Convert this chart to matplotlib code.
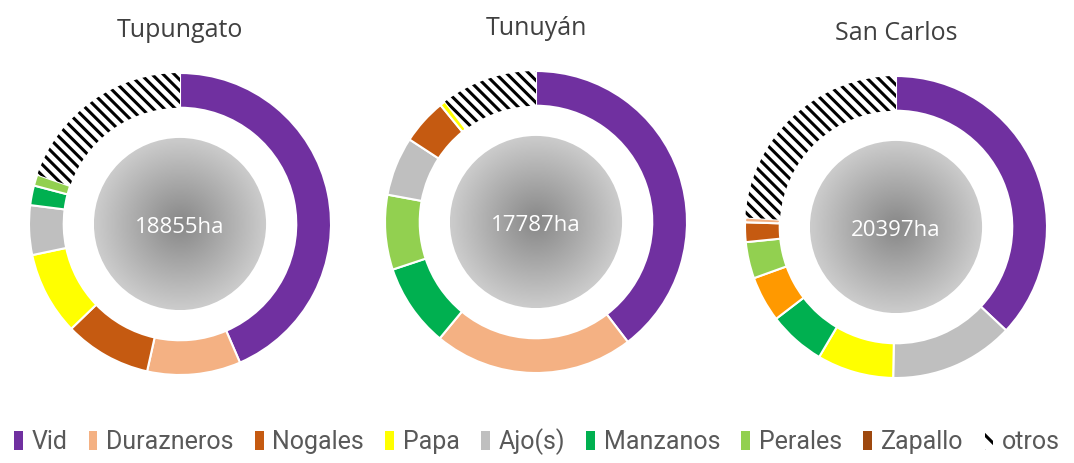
import numpy as np
import matplotlib
matplotlib.use('Agg')
import matplotlib.pyplot as plt
from matplotlib.patches import Patch, Circle

# colours per crop
colores = {
    'Vid': '#7030A0',
    'Durazneros': '#F4B183',
    'Nogales': '#C55A11',
    'Papa': '#FFFF00',
    'Ajo(s)': '#BFBFBF',
    'Manzanos': '#00B050',
    'Perales': '#92D050',
    'Zapallo': '#9E480E',
    'naranja': '#FF9900',   # slice without legend entry (San Carlos)
    'otros': '#FFFFFF',
}
legend_labels = ['Vid', 'Durazneros', 'Nogales', 'Papa', 'Ajo(s)', 'Manzanos',
                 'Perales', 'Zapallo', 'otros']

# % of cultivated area, read from the rings
tupungato_labels = ['Vid', 'Durazneros', 'Nogales', 'Papa', 'Ajo(s)', 'Manzanos', 'Perales', 'otros']
tupungato_vals = [43.5, 10.0, 9.3, 8.9, 5.3, 2.1, 1.2, 19.7]

tunuyan_labels = ['Vid', 'Durazneros', 'Manzanos', 'Perales', 'Ajo(s)', 'Nogales', 'Papa', 'otros']
tunuyan_vals = [39.6, 21.4, 8.9, 8.0, 6.3, 4.9, 0.6, 10.3]

sancarlos_labels = ['Vid', 'Ajo(s)', 'Papa', 'Manzanos', 'naranja', 'Perales', 'Nogales', 'Durazneros', 'otros']
sancarlos_vals = [37.0, 13.3, 8.2, 6.1, 4.9, 3.9, 2.1, 0.5, 24.0]

titulos = ['Tupungato', 'Tunuyán', 'San Carlos']
totales = ['18855ha', '17787ha', '20397ha']

plt.rcParams['hatch.linewidth'] = 2.2
W, H = 1074, 463
fig = plt.figure(figsize=(W / 100, H / 100), dpi=100)

centros = [(180, 224), (536, 222), (896, 227)]
R = 151
half = 160

# radial gradient for the centre disc
g = np.linspace(-1, 1, 300)
xx, yy = np.meshgrid(g, g)
rr = np.clip(np.sqrt(xx ** 2 + yy ** 2), 0, 1)
grad = 0.53 + 0.27 * rr

datos = [(tupungato_labels, tupungato_vals), (tunuyan_labels, tunuyan_vals),
         (sancarlos_labels, sancarlos_vals)]

for (cx, cy), (labs, vals), titulo, total in zip(centros, datos, titulos, totales):
    ax = fig.add_axes([(cx - half) / W, (H - cy - half) / H, 2 * half / W, 2 * half / H])
    wedges, _ = ax.pie(vals, colors=[colores[l] for l in labs], startangle=90,
                       counterclock=False, radius=1,
                       wedgeprops=dict(width=0.23, edgecolor='white', linewidth=1.5))
    for w, l in zip(wedges, labs):
        if l == 'otros':
            # hatch takes the edge colour; hide the outline itself
            w.set_hatch('\\\\\\')
            w.set_edgecolor('black')
            w.set_linewidth(0)
    r0 = 0.57
    im = ax.imshow(grad, cmap='gray', vmin=0, vmax=1, extent=[-r0, r0, -r0, r0], zorder=3)
    im.set_clip_path(Circle((0, 0), r0, transform=ax.transData))
    ax.text(0, -9 / R, total, ha='center', va='baseline', color='white', fontsize=16,
            family='Open Sans', zorder=4)
    ax.set_xlim(-half / R, half / R)
    ax.set_ylim(-half / R, half / R)
    ax.set_aspect('equal')
    ax.axis('off')
    fig.text(cx / W, 1 - (cy - 187) / H, titulo, ha='center', va='baseline',
             fontsize=18, color='#404040', family='Open Sans')

handles = []
for l in legend_labels:
    if l == 'otros':
        handles.append(Patch(facecolor='white', edgecolor='black', linewidth=0, hatch='\\\\'))
    else:
        handles.append(Patch(facecolor=colores[l], edgecolor='none'))

leg = fig.legend(handles, legend_labels, loc='center', bbox_to_anchor=(0.5, 21 / H),
                 ncol=9, frameon=False, handlelength=0.35, handleheight=0.8,
                 handletextpad=0.35, columnspacing=0.85,
                 prop={'family': 'Roboto', 'size': 18})
for t in leg.get_texts():
    t.set_color('#595959')

fig.savefig('out.png', dpi=100)
